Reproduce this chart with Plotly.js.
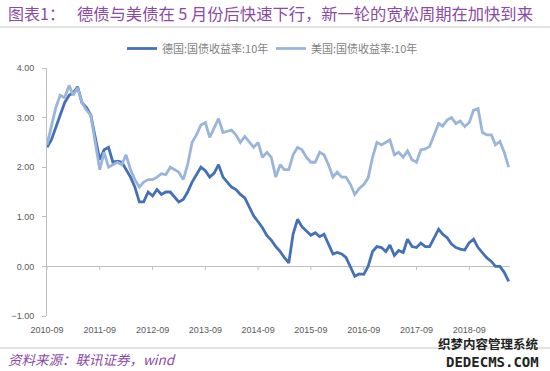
<!DOCTYPE html>
<html><head><meta charset="utf-8">
<script src="https://cdn.plot.ly/plotly-3.0.1.min.js"></script>
<style>html,body{margin:0;padding:0;background:#fff;}#chart{width:550px;height:371px;}</style>
</head><body><div id="chart"></div>
<script>
const months = [
"2010-09","2010-10","2010-11","2010-12",
"2011-01","2011-02","2011-03","2011-04","2011-05","2011-06","2011-07","2011-08","2011-09","2011-10","2011-11","2011-12",
"2012-01","2012-02","2012-03","2012-04","2012-05","2012-06","2012-07","2012-08","2012-09","2012-10","2012-11","2012-12",
"2013-01","2013-02","2013-03","2013-04","2013-05","2013-06","2013-07","2013-08","2013-09","2013-10","2013-11","2013-12",
"2014-01","2014-02","2014-03","2014-04","2014-05","2014-06","2014-07","2014-08","2014-09","2014-10","2014-11","2014-12",
"2015-01","2015-02","2015-03","2015-04","2015-05","2015-06","2015-07","2015-08","2015-09","2015-10","2015-11","2015-12",
"2016-01","2016-02","2016-03","2016-04","2016-05","2016-06","2016-07","2016-08","2016-09","2016-10","2016-11","2016-12",
"2017-01","2017-02","2017-03","2017-04","2017-05","2017-06","2017-07","2017-08","2017-09","2017-10","2017-11","2017-12",
"2018-01","2018-02","2018-03","2018-04","2018-05","2018-06","2018-07","2018-08","2018-09","2018-10","2018-11","2018-12",
"2019-01","2019-02","2019-03","2019-04","2019-05","2019-06"];

const germany10y = [
2.40,2.55,2.80,3.05,
3.30,3.45,3.50,3.62,3.30,3.20,3.05,2.60,2.15,2.35,2.40,2.10,
2.12,2.10,1.95,1.80,1.60,1.30,1.30,1.50,1.42,1.55,1.45,1.50,
1.50,1.40,1.30,1.35,1.50,1.70,1.85,2.00,1.93,1.80,1.88,2.05,
1.80,1.70,1.60,1.55,1.45,1.38,1.20,1.02,0.90,0.78,0.62,0.53,
0.40,0.30,0.18,0.07,0.65,0.95,0.80,0.72,0.63,0.68,0.60,0.65,
0.45,0.25,0.28,0.25,0.18,0.00,-0.20,-0.15,-0.16,0.00,0.30,0.40,
0.38,0.30,0.43,0.22,0.32,0.28,0.55,0.40,0.38,0.47,0.40,0.40,
0.58,0.75,0.65,0.58,0.45,0.38,0.35,0.33,0.48,0.55,0.38,0.27,
0.17,0.10,0.00,0.00,-0.12,-0.30];

const us10y = [
2.45,2.80,3.20,3.45,
3.40,3.65,3.45,3.60,3.30,3.15,3.05,2.50,1.95,2.30,2.00,2.05,
2.10,2.05,2.25,1.95,1.75,1.60,1.70,1.75,1.75,1.80,1.87,1.85,
2.00,1.95,1.90,1.75,2.05,2.50,2.65,2.85,2.90,2.60,2.80,2.98,
2.70,2.72,2.75,2.65,2.50,2.62,2.50,2.40,2.50,2.20,2.30,2.20,
1.80,2.05,1.95,1.95,2.25,2.40,2.35,2.20,2.10,2.10,2.30,2.25,
2.05,1.80,1.90,1.80,1.80,1.65,1.45,1.57,1.65,1.78,2.20,2.50,
2.45,2.50,2.55,2.25,2.30,2.20,2.33,2.15,2.10,2.35,2.37,2.42,
2.65,2.88,2.83,2.95,3.00,2.88,2.93,2.82,2.90,3.15,3.18,2.70,
2.65,2.65,2.45,2.52,2.30,2.00];

const seriesNames = ["德国:国债收益率:10年","美国:国债收益率:10年"];
const tickVals = ["2010-09-01","2011-09-01","2012-09-01","2013-09-01","2014-09-01","2015-09-01","2016-09-01","2017-09-01","2018-09-01"];
const tickLabels = ["2010-09","2011-09","2012-09","2013-09","2014-09","2015-09","2016-09","2017-09","2018-09"];

// pixel -> paper helpers (layout only)
const L=47, R=510, T=68, B=316;
const px = v => (v-L)/(R-L);
const py = v => (B-v)/(B-T);

const traces = [
 {x: months, y: germany10y, name: seriesNames[0], type:'scatter', mode:'lines',
  line:{color:'#4470B8', width:2.8}},
 {x: months, y: us10y, name: seriesNames[1], type:'scatter', mode:'lines',
  line:{color:'#9AB5DA', width:2.8}}
];

// small tick marks hanging below the zero line at each labelled date
const tickShapes = tickVals.map(d => ({type:'line', xref:'x', yref:'paper', x0:d, x1:d,
  y0:py(266), y1:py(270), line:{color:'#bfbfbf', width:1}}));

const tickFont = {family:'Liberation Sans, Arial, sans-serif', size:9, color:'#595959'};
const layout = {
 width:550, height:371,
 margin:{l:L, r:550-R, t:T, b:371-B, pad:0},
 paper_bgcolor:'#fff', plot_bgcolor:'#fff',
 showlegend:true,
 legend:{orientation:'h', x:px(122), y:py(34), xanchor:'left', yanchor:'top',
   font:{family:'Noto Sans CJK SC, sans-serif', size:11, color:'#7f7f7f'},
   bgcolor:'rgba(0,0,0,0)', itemwidth:30, tracegroupgap:0, entrywidth:104, entrywidthmode:'pixels'},
 xaxis:{type:'date', range:['2010-09-01','2019-06-10'],
   showgrid:false, zeroline:false, showline:false, ticks:'',
   tickvals:tickVals, ticktext:tickLabels, tickfont:tickFont, ticklabelstandoff:7, fixedrange:true},
 yaxis:{range:[-1,4], dtick:1, tick0:0, tickformat:'.2f', showgrid:false,
   zeroline:true, zerolinecolor:'#bfbfbf', zerolinewidth:1,
   showline:true, linecolor:'#bfbfbf', linewidth:1, ticks:'outside', ticklen:4, tickcolor:'#bfbfbf',
   tickfont:tickFont, ticklabelstandoff:6},
 shapes:[
  {type:'line', xref:'paper', yref:'paper', x0:px(0), x1:px(550), y0:py(27), y1:py(27), line:{color:'#c8c8c8', width:1}},
  {type:'line', xref:'paper', yref:'paper', x0:px(0), x1:px(550), y0:py(348), y1:py(348), line:{color:'#c8c8c8', width:1}}
 ].concat(tickShapes),
 annotations:[
  {xref:'paper', yref:'paper', x:px(6), y:py(13), xanchor:'left', yanchor:'middle', showarrow:false,
   text:'图表1：', font:{family:'Noto Sans CJK SC, sans-serif', size:16, color:'#8B4AA6'}},
  {xref:'paper', yref:'paper', x:px(75), y:py(13), xanchor:'left', yanchor:'middle', showarrow:false,
   text:'德债与美债在 5 月份后快速下行，新一轮的宽松周期在加快到来', font:{family:'Noto Sans CJK SC, sans-serif', size:16.3, color:'#8B4AA6'}},
  {xref:'paper', yref:'paper', x:px(6), y:py(359), xanchor:'left', yanchor:'middle', showarrow:false,
   text:'<i>资料来源：联讯证券，wind</i>', font:{family:'Noto Sans CJK SC, sans-serif', size:13.5, color:'#8B4AA6'}},
  {xref:'paper', yref:'paper', x:px(541), y:py(343), xanchor:'right', yanchor:'middle', showarrow:false,
   text:'<b>织梦内容管理系统</b>', font:{family:'Noto Sans CJK SC, sans-serif', size:12.5, color:'#222'}},
  {xref:'paper', yref:'paper', x:px(541), y:py(362), xanchor:'right', yanchor:'middle', showarrow:false,
   text:'<b>DEDECMS.COM</b>', font:{family:'DejaVu Sans Mono, monospace', size:14, color:'#222'}}
 ]
};
Plotly.newPlot('chart', traces, layout, {displayModeBar:false, staticPlot:true});
</script></body></html>
